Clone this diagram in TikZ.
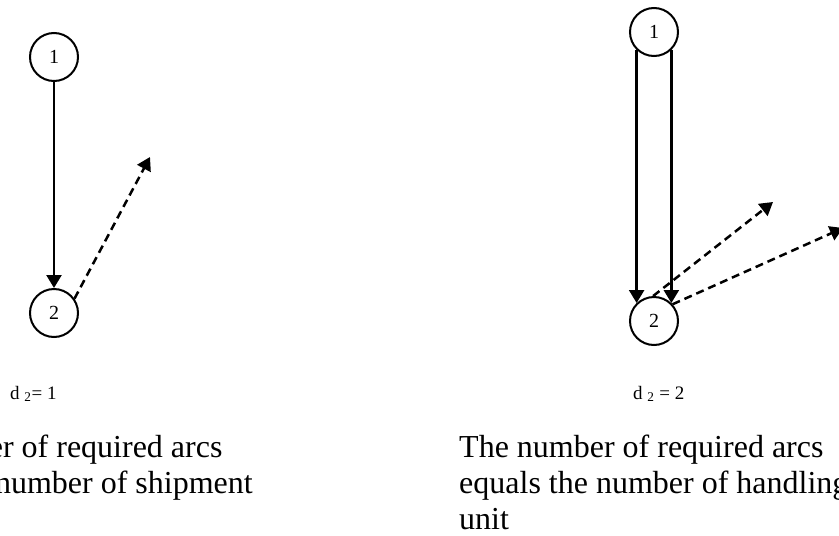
\documentclass[tikz,border=0pt]{standalone}
\usepackage{fontspec}
\setmainfont{Liberation Serif}
\usetikzlibrary{arrows.meta}
\tikzset{
  vertex/.style={draw, circle, line width=2pt, minimum size=48pt, inner sep=0pt, font=\fontsize{20}{22}\selectfont},
  solidarc/.style={line width=2.5pt, -{Triangle[length=13pt,width=15pt]}},
  dasharc/.style={line width=2.5pt, dash pattern=on 8pt off 5pt, -{Triangle[length=13pt,width=15pt]}},
  dlabel/.style={anchor=base west, inner sep=0pt, font=\fontsize{19}{22}\selectfont},
  caption/.style={anchor=base west, inner sep=0pt, font=\fontsize{32}{36}\selectfont},
}
\begin{document}
\begin{tikzpicture}[x=1pt,y=-1pt]
\clip (0,0) rectangle (839,536);
\fill[white] (0,0) rectangle (839,536);
% left diagram
\node[vertex] (a1) at (54,57) {1};
\node[vertex] (a2) at (54,313) {2};
\coordinate (ta) at (150,157);
\draw[solidarc] (a1) -- (a2);
\draw[dasharc] (a2.35) -- (ta);
\node[dlabel] (la) at (10,399) {d \textsubscript{2}= 1};
\node[caption] (ca1) at (-142,457) {The number of required arcs};
\node[caption] (ca2) at (-142,493) {equals the number of shipment};
% right diagram
\node[vertex] (b1) at (654,32) {1};
\node[vertex] (b2) at (654,321) {2};
\coordinate (tb1) at (773,202);
\coordinate (tb2) at (843,228);
\draw[solidarc] (b1.-134) -- (b2.134);
\draw[solidarc] (b1.-46) -- (b2.46);
\draw[dasharc] (b2.92) -- (tb1);
\draw[dasharc] (b2.42) -- (tb2);
\node[dlabel] (lb) at (633,399) {d \textsubscript{2} = 2};
\node[caption] (cb1) at (459,457) {The number of required arcs};
\node[caption] (cb2) at (459,493) {equals the number of handling};
\node[caption] (cb3) at (459,529) {unit};
\end{tikzpicture}
\end{document}
